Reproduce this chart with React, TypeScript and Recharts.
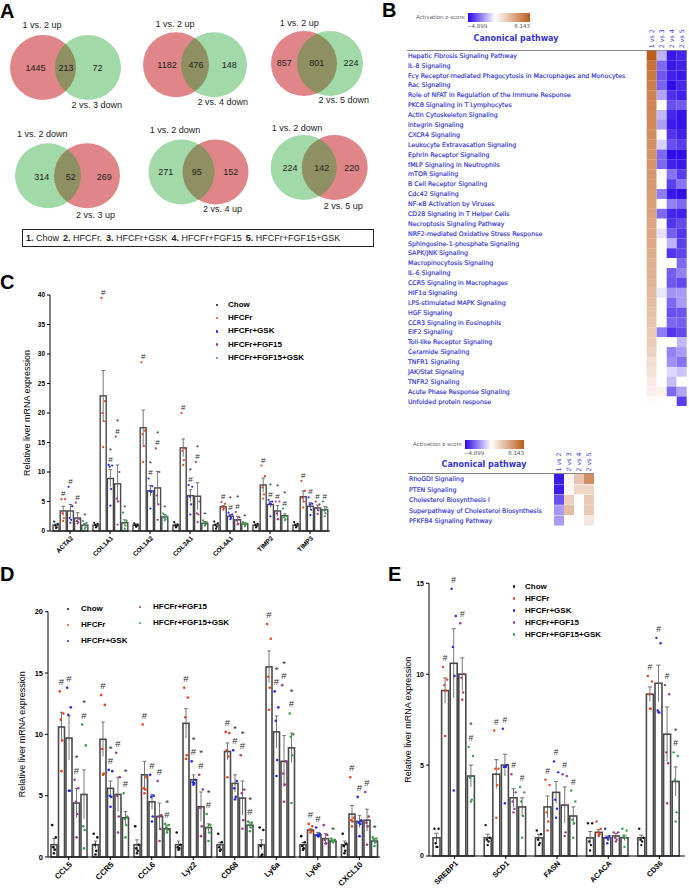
import React from "react";
import { BarChart, Bar, XAxis, YAxis, Cell, ScatterChart, Scatter } from "recharts";

const FONT = "'Liberation Sans', Arial, sans-serif";
const HEAT_FONT = "'DejaVu Sans', sans-serif";

// groups shared by C, D, E
const groups = ["Chow", "HFCFr", "HFCFr+GSK", "HFCFr+FGF15", "HFCFr+FGF15+GSK"];
const groupColors = ["#111111", "#e8431e", "#2525ee", "#9c3b8c", "#3a9e4a"];

// ---- panel A: venn counts
const vennCounts = [
  [1445, 213, 72],
  [1182, 476, 148],
  [857, 801, 224],
  [314, 52, 269],
  [271, 95, 152],
  [224, 142, 220],
];
const vennTopLabels = ["1 vs. 2 up", "1 vs. 2 up", "1 vs. 2 up", "1 vs. 2 down", "1 vs. 2 down", "1 vs. 2 down"];
const vennBottomLabels = ["2 vs. 3 down", "2 vs. 4 down", "2 vs. 5 down", "2 vs. 3 up", "2 vs. 4 up", "2 vs. 5 up"];
const groupKey = [
  ["1.", "Chow"],
  ["2.", "HFCFr."],
  ["3.", "HFCFr+GSK"],
  ["4.", "HFCFr+FGF15"],
  ["5.", "HFCFr+FGF15+GSK"],
];

// ---- panel B: IPA canonical pathways (activation z-score)
const heatCols = ["1 vs 2", "2 vs 3", "2 vs 4", "2 vs 5"];
const upperPathways = [
  "Hepatic Fibrosis Signaling Pathway",
  "IL-8 Signaling",
  "Fcγ Receptor-mediated Phagocytosis in Macrophages and Monocytes",
  "Rac Signaling",
  "Role of NFAT in Regulation of the Immune Response",
  "PKCθ Signaling in T Lymphocytes",
  "Actin Cytoskeleton Signaling",
  "Integrin Signaling",
  "CXCR4 Signaling",
  "Leukocyte Extravasation Signaling",
  "Ephrin Receptor Signaling",
  "fMLP Signaling in Neutrophils",
  "mTOR Signaling",
  "B Cell Receptor Signaling",
  "Cdc42 Signaling",
  "NF-κB Activation by Viruses",
  "CD28 Signaling in T Helper Cells",
  "Necroptosis Signaling Pathway",
  "NRF2-mediated Oxidative Stress Response",
  "Sphingosine-1-phosphate Signaling",
  "SAPK/JNK Signaling",
  "Macropinocytosis Signaling",
  "IL-6 Signaling",
  "CCR5 Signaling in Macrophages",
  "HIF1α Signaling",
  "LPS-stimulated MAPK Signaling",
  "HGF Signaling",
  "CCR3 Signaling in Eosinophils",
  "EIF2 Signaling",
  "Toll-like Receptor Signaling",
  "Ceramide Signaling",
  "TNFR1 Signaling",
  "JAK/Stat Signaling",
  "TNFR2 Signaling",
  "Acute Phase Response Signaling",
  "Unfolded protein response",
];
const upperZ = [
  [6.1, -1.5, -4.6, -4.3],
  [5.3, -3.0, -4.6, -4.4],
  [5.1, -3.3, -4.4, -4.6],
  [4.9, -3.1, -4.8, -4.3],
  [4.7, -1.8, -4.1, -4.4],
  [4.6, 0, -3.5, -3.3],
  [4.5, -1.4, -4.3, -4.7],
  [4.4, -1.9, -4.5, -4.7],
  [4.3, 0, -4.0, -4.4],
  [4.2, -0.9, -3.5, -3.9],
  [4.1, -3.0, -4.8, -4.8],
  [4.0, -3.0, -4.4, -4.6],
  [3.9, 0, -2.8, -3.9],
  [3.8, 0, -3.8, -2.8],
  [3.7, -2.6, -4.6, -4.8],
  [3.6, 0, -2.5, -3.0],
  [3.5, -3.0, -4.3, -4.4],
  [3.4, 0, -4.0, -3.6],
  [3.3, -0.6, -3.2, -4.0],
  [3.2, 0, -1.5, -3.8],
  [3.1, 0, -4.0, -3.7],
  [3.0, 0, 0, -3.0],
  [2.9, 0, -3.2, -2.5],
  [2.8, 0, -3.3, -3.6],
  [2.6, -0.5, -2.1, -2.0],
  [2.5, 0, -3.0, -2.0],
  [2.3, 0, -3.5, -3.4],
  [2.2, 0, -3.0, -3.2],
  [2.0, -2.6, -4.0, -3.6],
  [1.9, 0, 0, -1.4],
  [1.7, 0, -2.5, -2.0],
  [1.2, 0, -2.2, -2.8],
  [1.1, 0, -0.8, -1.2],
  [0.7, 0, -1.3, 0],
  [0.6, 0.5, -3.0, -1.8],
  [0.2, 0, 0, -3.8],
];
const lowerPathways = [
  "RhoGDI Signaling",
  "PTEN Signaling",
  "Cholesterol Biosynthesis I",
  "Superpathway of Cholesterol Biosynthesis",
  "PFKFB4 Signaling Pathway",
];
const lowerZ = [
  [-4.5, 0.4, 2.2, 4.2],
  [-4.5, 0.3, 1.5, 1.5],
  [-3.5, 1.8, 0, 2.0],
  [-2.0, 2.5, 0, 2.0],
  [-2.0, 0, 0, 0.9],
];

// ---- panel C: fibrosis genes
const fibGenes = ["ACTA2", "COL1A1", "COL1A2", "COL3A1", "COL4A1", "TIMP2", "TIMP3"];
const fibMean = [
  [1.0, 3.4, 3.4, 2.2, 1.0],
  [1.0, 22.9, 8.9, 8.0, 1.4],
  [1.0, 17.5, 6.8, 7.3, 2.4],
  [1.0, 14.1, 6.0, 5.9, 1.3],
  [1.0, 4.1, 2.5, 1.9, 1.2],
  [1.0, 7.8, 4.5, 3.4, 2.6],
  [1.0, 5.8, 4.2, 3.9, 3.6],
];
const fibSem = [
  [0.2, 0.8, 1.1, 0.9, 0.3],
  [0.2, 4.3, 1.5, 3.2, 0.5],
  [0.2, 3.0, 0.9, 2.8, 0.4],
  [0.2, 1.5, 1.0, 2.3, 0.3],
  [0.2, 0.2, 0.3, 0.6, 0.2],
  [0.2, 1.2, 0.5, 0.9, 0.3],
  [0.2, 1.0, 0.6, 0.5, 0.5],
];
const fibPoints = [
  [[1.6, 1.2, 0.9, 0.6, 0.5], [5.4, 5.4, 3.0, 2.2, 1.7], [7.5, 4.2, 2.2, 1.9, 1.4], [4.8, 2.0, 1.7, 1.5, 1.3], [1.7, 1.4, 1.0, 0.6, 0.4]],
  [[1.4, 1.2, 1.0, 0.8, 0.6], [39.5, 22.0, 20.0, 18.6, 14.2], [11.2, 11.1, 10.9, 7.1, 4.3], [16.0, 10.0, 5.5, 5.0, 1.1], [3.1, 1.7, 1.3, 0.9, 0.4]],
  [[1.3, 1.1, 1.0, 0.8, 0.7], [28.6, 17.0, 16.4, 14.4, 11.7], [8.9, 7.6, 6.8, 6.6, 3.8], [14.0, 10.0, 6.0, 4.5, 1.9], [3.0, 2.5, 2.3, 2.0, 1.8]],
  [[1.5, 1.1, 0.9, 0.8, 0.6], [20.0, 14.0, 13.6, 12.0, 11.2], [7.8, 7.5, 5.8, 4.5, 2.8], [11.7, 5.0, 3.0, 2.8, 1.5], [1.8, 1.5, 1.3, 1.1, 0.9]],
  [[1.6, 1.3, 1.0, 0.7, 0.4], [4.9, 4.6, 4.1, 3.8, 3.6], [3.1, 2.8, 2.5, 2.2, 2.0], [3.2, 2.3, 1.8, 1.2, 1.1], [1.5, 1.3, 1.2, 1.0, 0.8]],
  [[1.5, 1.2, 1.0, 0.8, 0.6], [11.1, 9.3, 7.4, 6.2, 5.5], [5.3, 5.0, 4.7, 4.5, 2.5], [5.0, 5.0, 3.0, 2.0, 2.0], [3.8, 2.5, 2.3, 2.0, 1.8]],
  [[1.5, 1.2, 1.0, 0.8, 0.6], [8.5, 6.8, 5.6, 5.0, 4.0], [5.7, 4.6, 4.5, 3.6, 2.7], [5.0, 4.5, 3.9, 3.5, 2.9], [5.0, 4.0, 3.5, 3.0, 2.5]],
];
const fibMarks = [
  ["", "#", "#", "#", "*"],
  ["", "#", "*#", "*#", "*"],
  ["", "#", "*#", "*#", "*"],
  ["", "#", "*#", "*#", "*"],
  ["", "#", "*#", "*#", "*"],
  ["", "#", "*#", "*#", "*#"],
  ["", "#", "#", "#", "#"],
];
const fibTicks = [0, 5, 10, 15, 20, 25, 30, 35, 40];

// ---- panel D: inflammation genes
const inflGenes = ["CCL5", "CCR5", "CCL6", "Lyz2", "CD68", "Ly6a", "Ly6e", "CXCL10"];
const inflMean = [
  [1.0, 10.6, 9.7, 4.4, 5.1],
  [1.0, 9.6, 5.6, 5.1, 3.2],
  [1.0, 6.7, 4.5, 3.3, 2.3],
  [1.0, 10.9, 6.3, 4.1, 2.4],
  [1.0, 8.6, 6.0, 4.8, 2.6],
  [1.0, 15.5, 10.2, 7.8, 8.9],
  [1.0, 2.2, 1.8, 1.5, 1.3],
  [1.0, 3.5, 2.9, 3.0, 1.3],
];
const inflSem = [
  [0.5, 1.2, 1.8, 1.2, 2.0],
  [0.3, 1.4, 0.6, 1.4, 0.5],
  [0.4, 1.1, 0.6, 1.1, 0.3],
  [0.3, 1.2, 0.4, 1.2, 0.3],
  [0.2, 0.7, 0.7, 1.4, 0.2],
  [0.4, 1.3, 1.3, 2.1, 1.2],
  [0.2, 0.1, 0.2, 0.4, 0.1],
  [0.3, 0.7, 0.5, 0.9, 0.2],
];
const inflPoints = [
  [[2.6, 1.6, 0.8, 0.6, 0.3], [13.5, 11.7, 11.2, 9.5, 7.0], [13.8, 12.2, 11.6, 5.4, 5.4], [6.3, 5.6, 4.5, 3.5, 1.6], [10.8, 9.1, 2.5, 2.2, 0.7]],
  [[1.9, 1.6, 1.0, 0.5, 0.2], [13.2, 12.4, 8.8, 6.8, 6.7], [7.1, 7.0, 5.0, 4.9, 4.1], [8.5, 6.5, 5.0, 3.3, 2.0], [5.2, 3.3, 3.1, 2.6, 1.6]],
  [[2.5, 1.0, 0.7, 0.5, 0.3], [10.8, 6.5, 5.6, 5.5, 5.2], [6.7, 5.0, 4.9, 3.3, 2.9], [6.2, 3.4, 3.3, 2.3, 1.3], [2.7, 2.6, 2.4, 2.2, 2.0]],
  [[2.0, 1.0, 0.8, 0.7, 0.6], [13.8, 13.0, 11.4, 8.3, 8.0], [7.8, 6.3, 6.1, 6.0, 5.9], [6.7, 5.5, 4.0, 2.5, 1.7], [3.5, 2.6, 2.4, 2.0, 1.3]],
  [[1.9, 1.2, 0.8, 0.6, 0.5], [10.2, 10.1, 8.7, 8.2, 6.5], [8.7, 6.2, 5.6, 4.9, 4.7], [8.3, 5.5, 5.2, 3.0, 2.3], [2.9, 2.8, 2.6, 2.4, 2.1]],
  [[2.4, 2.2, 0.9, 0.2, 0.1], [19.0, 17.8, 14.7, 13.8, 12.0], [13.5, 12.2, 11.1, 7.9, 6.6], [14.0, 7.8, 6.8, 5.9, 4.5], [11.7, 10.0, 9.8, 8.3, 4.4]],
  [[1.7, 1.2, 0.9, 0.7, 0.6], [2.7, 2.5, 2.2, 2.1, 2.0], [2.4, 1.9, 1.8, 1.7, 1.7], [2.6, 1.8, 1.4, 1.1, 1.1], [1.5, 1.4, 1.3, 1.3, 1.2]],
  [[1.9, 1.1, 0.9, 0.5, 0.3], [6.5, 3.2, 3.0, 2.9, 2.5], [4.9, 3.0, 2.8, 2.7, 1.7], [5.3, 3.3, 2.8, 2.5, 1.0], [1.6, 1.5, 1.4, 1.2, 0.9]],
];
const inflMarks = [
  ["", "#", "#", "*#", "*#"],
  ["", "#", "*#", "#", "*#"],
  ["", "#", "#", "#", "*#"],
  ["", "#", "*#", "*#", "*#"],
  ["", "#", "*#", "*#", "*#"],
  ["", "#", "*#", "*#", "*#"],
  ["", "#", "#", "", "*"],
  ["", "#", "#", "#", "*"],
];
const inflTicks = [0, 5, 10, 15, 20];

// ---- panel E: lipid genes
const lipGenes = ["SREBP1", "SCD1", "FASN", "ACACA", "CD36"];
const lipMean = [
  [1.0, 9.1, 10.6, 10.0, 4.4],
  [1.0, 4.5, 5.0, 3.2, 2.7],
  [1.0, 2.7, 3.5, 2.8, 2.2],
  [1.0, 1.3, 1.0, 1.1, 1.0],
  [1.0, 8.9, 9.5, 6.7, 4.1],
];
const lipSem = [
  [0.25, 0.7, 1.9, 0.9, 0.6],
  [0.2, 0.8, 0.6, 0.5, 0.5],
  [0.2, 0.6, 0.6, 1.0, 0.5],
  [0.35, 0.15, 0.1, 0.15, 0.15],
  [0.15, 0.4, 1.0, 1.5, 0.8],
];
const lipPoints = [
  [[1.5, 1.5, 0.7, 0.5, 0.5], [10.4, 9.7, 9.4, 9.1, 6.6], [14.7, 13.2, 11.5, 9.9, 3.6], [12.8, 10.0, 9.8, 9.0, 8.6], [6.0, 5.5, 4.3, 3.1, 3.0]],
  [[1.7, 1.0, 0.9, 0.8, 0.6], [6.9, 4.8, 4.8, 3.9, 2.1], [7.0, 5.0, 4.9, 4.9, 2.9], [4.5, 3.5, 3.0, 2.6, 2.4], [3.8, 3.5, 3.0, 2.2, 1.0]],
  [[1.4, 1.2, 0.9, 0.7, 0.6], [4.2, 3.9, 2.4, 1.9, 1.4], [5.2, 4.6, 3.1, 2.6, 2.1], [4.5, 4.4, 2.8, 1.3, 1.1], [3.6, 3.0, 2.0, 1.8, 1.0]],
  [[1.8, 1.8, 0.8, 0.6, 0.3], [1.9, 1.5, 1.3, 1.2, 1.1], [1.5, 1.1, 1.0, 0.9, 0.7], [1.3, 1.3, 1.0, 0.9, 0.8], [1.5, 1.4, 1.1, 1.0, 0.5]],
  [[1.5, 1.0, 0.9, 0.8, 0.6], [9.9, 9.6, 8.9, 8.1, 8.1], [12.0, 11.7, 8.0, 7.9, 7.9], [9.4, 8.9, 5.7, 5.1, 2.9], [5.7, 5.5, 4.2, 2.4, 1.9]],
];
const lipMarks = [
  ["", "#", "#", "#", "*#"],
  ["", "#", "#", "#", "#"],
  ["", "#", "#", "#", "#"],
  ["", "", "", "", ""],
  ["", "#", "#", "#", "*#"],
];
const lipTicks = [0, 5, 10, 15];

// layout of the six venn diagrams (page px)
const VENN_LAYOUT = [
  { l: 43, r: 88, cy: 67.5, nx: [35.5, 66, 97.5], ny: 67.7, top: [42, 25], bot: [96.7, 105] },
  { l: 176, r: 214, cy: 64.7, nx: [167, 196, 229.3], ny: 65, top: [175, 24], bot: [222.7, 102.3] },
  { l: 304, r: 330, cy: 63.5, nx: [284.3, 316.7, 351], ny: 63.3, top: [299.3, 23.3], bot: [343.8, 100] },
  { l: 48, r: 87, cy: 175.8, nx: [41.7, 70.7, 104.3], ny: 176.7, top: [42.2, 134], bot: [95.5, 215] },
  { l: 181.5, r: 215.5, cy: 172, nx: [165.7, 196.7, 230.7], ny: 172.3, top: [175, 130], bot: [222.5, 209] },
  { l: 303.7, r: 334.7, cy: 167.5, nx: [290, 321.7, 351.7], ny: 167.7, top: [297, 128.3], bot: [343.3, 206] },
];

const zColor = (z: number) => {
  const lerp = (a: number, b: number, t: number) => Math.round(a + (b - a) * t);
  if (!z) return "#ffffff";
  if (z < 0) {
    const t = Math.min(1, -z / 4.899);
    return `rgb(${lerp(255, 43, t)},${lerp(255, 8, t)},${lerp(255, 232, t)})`;
  }
  const t = Math.min(1, z / 6.143);
  return `rgb(${lerp(255, 188, t)},${lerp(255, 92, t)},${lerp(255, 28, t)})`;
};

const PanelLetter = ({ ch, x, y }: any) => (
  <div style={{ position: "absolute", left: x, top: y, fontSize: 20, fontWeight: "bold", lineHeight: 1, fontFamily: FONT }}>{ch}</div>
);

const VennPanel = () => {
  const reds: any[] = [];
  const greens: any[] = [];
  const texts: any[] = [];
  VENN_LAYOUT.forEach((v, i) => {
    const redLeft = i < 3;
    reds.push({ x: redLeft ? v.l : v.r, y: v.cy });
    greens.push({ x: redLeft ? v.r : v.l, y: v.cy });
    vennCounts[i].forEach((c, j) => texts.push({ x: v.nx[j], y: v.ny, text: String(c) }));
    texts.push({ x: v.top[0], y: v.top[1], text: vennTopLabels[i] });
    texts.push({ x: v.bot[0], y: v.bot[1], text: vennBottomLabels[i] });
  });
  const circle = (fill: string, op: number) => (p: any) => (
    <ellipse cx={p.cx} cy={p.cy} rx={33} ry={32.5} fill={fill} fillOpacity={op} />
  );
  const label = (p: any) => (
    <text x={p.cx} y={p.cy} dy="0.35em" textAnchor="middle" fontSize={9} fill="#222" fontFamily={FONT}>
      {p.payload.text}
    </text>
  );
  return (
    <div style={{ position: "absolute", left: 0, top: 0 }}>
      <ScatterChart width={380} height={225} margin={{ top: 0, right: 0, bottom: 0, left: 0 }}>
        <XAxis type="number" dataKey="x" domain={[0, 380]} hide />
        <YAxis type="number" dataKey="y" domain={[0, 225]} reversed hide />
        <Scatter data={reds} shape={circle("rgb(200,40,45)", 0.57)} isAnimationActive={false} />
        <Scatter data={greens} shape={circle("rgb(20,160,40)", 0.4)} isAnimationActive={false} />
        <Scatter data={texts} shape={label} isAnimationActive={false} />
      </ScatterChart>
    </div>
  );
};

const ColTick = (p: any) => {
  const { x, payload, base } = p;
  return (
    <text transform={`translate(${x + 2.3},${base}) rotate(-90)`} textAnchor="start" fontSize={6.3} fill="#3636d6" fontFamily={HEAT_FONT}>
      {heatCols[Math.floor(payload.value)]}
    </text>
  );
};

const RowTick = (p: any) => {
  const { y, payload, x0 } = p;
  return (
    <text x={x0} y={y} dy="0.35em" fontSize={6.3} fill="#3030d4" fontFamily={HEAT_FONT} stroke="#3030d4" strokeWidth={0.15}>
      {payload.value}
    </text>
  );
};

const Heatmap = ({ names, z, cfg }: any) => {
  const rows = names.map((n: string) => ({ name: n, c0: 1, c1: 1, c2: 1, c3: 1 }));
  return (
    <div style={{ position: "absolute", left: cfg.left, top: cfg.top }}>
      <BarChart
        layout="vertical"
        width={cfg.width}
        height={cfg.height}
        data={rows}
        margin={{ top: 0, right: cfg.right, bottom: 0, left: 0 }}
        barCategoryGap={0}
      >
        <XAxis
          type="number"
          orientation="top"
          domain={[0, 4]}
          ticks={[0.5, 1.5, 2.5, 3.5]}
          height={cfg.headerH}
          axisLine={false}
          tickLine={false}
          interval={0}
          tick={<ColTick base={cfg.headerH - 2.5} />}
        />
        <YAxis
          type="category"
          dataKey="name"
          width={cfg.yAxisWidth}
          axisLine={false}
          tickLine={false}
          interval={0}
          tick={<RowTick x0={cfg.labelX} />}
        />
        {[0, 1, 2, 3].map((k) => (
          <Bar key={k} dataKey={`c${k}`} stackId="h" isAnimationActive={false}>
            {z.map((r: number[], i: number) => (
              <Cell key={i} fill={zColor(r[k])} />
            ))}
          </Bar>
        ))}
      </BarChart>
    </div>
  );
};

const HeatLegend = ({ x, y, w, title }: any) => (
  <>
    <div style={{ position: "absolute", left: x - 70, top: y + 1, width: 67, textAlign: "right", fontSize: 5.5, color: "#666", fontFamily: HEAT_FONT }}>
      Activation z-score
    </div>
    <div
      style={{
        position: "absolute",
        left: x,
        top: y,
        width: w,
        height: 9,
        background: "linear-gradient(to right, rgb(43,8,232) 0%, #ffffff 44%, rgb(188,92,28) 100%)",
      }}
    />
    <div style={{ position: "absolute", left: x - 1, top: y + 10, fontSize: 5.5, color: "#555", fontFamily: HEAT_FONT }}>−4.899</div>
    <div style={{ position: "absolute", left: x + w - 20, top: y + 10, width: 20, textAlign: "right", fontSize: 5.5, color: "#555", fontFamily: HEAT_FONT }}>
      6.143
    </div>
    <div
      style={{
        position: "absolute",
        left: title.cx - 60,
        top: title.y - 5,
        width: 120,
        textAlign: "center",
        fontSize: 8,
        fontWeight: "bold",
        color: "#3434d0",
        fontFamily: HEAT_FONT,
      }}
    >
      Canonical pathway
    </div>
    <div style={{ position: "absolute", left: title.lx0, top: title.ly, width: title.lx1 - title.lx0, height: 0, borderTop: "1px solid #888" }} />
  </>
);

const JIT = [-0.3, 0.3, -0.12, 0.12, 0];

const makeShape = (k: number, sem: number[][], points: number[][][], marks: string[][], st: any) => (p: any) => {
  const { x, y, width, height, payload } = p;
  const gi = payload.idx;
  const m = payload[`m${k}`];
  if (!m || !height) return <g />;
  const ppu = height / m;
  const base = y + height;
  const sy = (v: number) => base - v * ppu;
  const cx = x + width / 2;
  const s = sem[gi][k];
  const pts = points[gi][k];
  const top = Math.min(sy(m + s), ...pts.map(sy));
  const mk = marks[gi][k].split("").reverse();
  return (
    <g>
      <rect x={x} y={y} width={width} height={height} fill="#ffffff" stroke="#4a4a4a" strokeWidth={st.bw} />
      <line x1={cx} x2={cx} y1={sy(Math.max(0, m - s))} y2={sy(m + s)} stroke="#555" strokeWidth={0.8} />
      <line x1={cx - width * 0.3} x2={cx + width * 0.3} y1={sy(m + s)} y2={sy(m + s)} stroke="#555" strokeWidth={0.8} />
      {pts.map((v, j) => (
        <circle key={j} cx={cx + JIT[j] * width} cy={sy(v)} r={st.pr} fill={groupColors[k]} />
      ))}
      {mk.map((c, j) => (
        <text
          key={j}
          x={cx}
          y={top - st.gap - j * st.mf * st.step}
          textAnchor="middle"
          fontSize={st.mf}
          fill="#2e2e2e"
          fontFamily={FONT}
        >
          {c}
        </text>
      ))}
    </g>
  );
};

const RotTick = (p: any) => {
  const { x, y, payload, fs } = p;
  return (
    <text transform={`translate(${x + 2},${y + 1}) rotate(-45)`} textAnchor="end" dy="0.35em" fontSize={fs} fontWeight="bold" fill="#000" fontFamily={FONT}>
      {payload.value}
    </text>
  );
};

const AxisTitle = ({ viewBox, dx }: any) => {
  const cx = viewBox.x + dx;
  const cy = viewBox.y + viewBox.height / 2;
  return (
    <text transform={`translate(${cx},${cy}) rotate(-90)`} textAnchor="middle" fontSize={9} fill="#000" fontFamily={FONT}>
      Relative liver mRNA expression
    </text>
  );
};

const GeneChart = ({ genes, mean, sem, points, marks, ticks, cfg }: any) => {
  const rows = genes.map((g: string, i: number) => {
    const r: any = { gene: g, idx: i };
    groups.forEach((_, k) => {
      r[`m${k}`] = mean[i][k];
    });
    return r;
  });
  return (
    <div style={{ position: "absolute", left: cfg.left, top: cfg.top }}>
      <BarChart
        width={cfg.width}
        height={cfg.height}
        data={rows}
        margin={cfg.margin}
        barCategoryGap={cfg.catGap}
        barGap={cfg.barGap}
      >
        <XAxis
          dataKey="gene"
          height={cfg.xAxisHeight}
          interval={0}
          axisLine={{ stroke: "#000" }}
          tickLine={{ stroke: "#000" }}
          tickSize={3}
          tick={<RotTick fs={cfg.xFont} />}
        />
        <YAxis
          width={cfg.yAxisWidth}
          domain={[0, ticks[ticks.length - 1]]}
          ticks={ticks}
          interval={0}
          axisLine={{ stroke: "#000" }}
          tickLine={{ stroke: "#000" }}
          tickSize={3}
          tick={{ fontSize: cfg.yFont, fontWeight: "bold", fill: "#000", fontFamily: FONT }}
          label={<AxisTitle dx={cfg.titleX} />}
        />
        {groups.map((gname, k) => (
          <Bar
            key={gname}
            dataKey={`m${k}`}
            name={gname}
            isAnimationActive={false}
            shape={makeShape(k, sem, points, marks, cfg.style)}
          />
        ))}
      </BarChart>
    </div>
  );
};

const LegendItem = ({ x, y, dotX, i }: any) => (
  <>
    <div style={{ position: "absolute", left: dotX - 1.3, top: y - 1.3, width: 2.6, height: 2.6, borderRadius: 2, background: groupColors[i] }} />
    <div style={{ position: "absolute", left: x, top: y - 5, fontSize: 8, lineHeight: "10px", fontWeight: "bold", fontFamily: FONT, whiteSpace: "nowrap" }}>
      {groups[i]}
    </div>
  </>
);

export default function App() {
  return (
    <div style={{ position: "absolute", left: 0, top: 0, width: 689, height: 892, background: "#fff", fontFamily: FONT, overflow: "hidden" }}>
      <VennPanel />
      <div
        style={{
          position: "absolute",
          left: 22,
          top: 229,
          width: 347,
          height: 16,
          border: "1.5px solid #222",
          fontSize: 9,
          lineHeight: "16px",
          paddingLeft: 3,
          whiteSpace: "nowrap",
          color: "#222",
        }}
      >
        {groupKey.map(([n, g]) => (
          <span key={n} style={{ marginRight: 4 }}>
            <b>{n}</b> {g}
          </span>
        ))}
      </div>

      <HeatLegend x={468} y={13} w={62} title={{ cx: 516, y: 39, lx0: 407, lx1: 687, ly: 50 }} />
      <Heatmap
        names={upperPathways}
        z={upperZ}
        cfg={{ left: 380, top: 0, width: 309, height: 406.4, right: 2.3, headerH: 50.7, yAxisWidth: 266.7, labelX: 28 }}
      />
      <HeatLegend x={465} y={440} w={59} title={{ cx: 484, y: 465, lx0: 408, lx1: 594, ly: 473 }} />
      <Heatmap
        names={lowerPathways}
        z={lowerZ}
        cfg={{ left: 380, top: 420, width: 309, height: 106, right: 95, headerH: 54, yAxisWidth: 174, labelX: 29 }}
      />

      <GeneChart
        genes={fibGenes}
        mean={fibMean}
        sem={fibSem}
        points={fibPoints}
        marks={fibMarks}
        ticks={fibTicks}
        cfg={{
          left: 0,
          top: 285,
          width: 400,
          height: 281,
          margin: { top: 10, right: 70, bottom: 0, left: 0 },
          yAxisWidth: 50,
          xAxisHeight: 35,
          catGap: 3,
          barGap: 1.2,
          xFont: 6.5,
          yFont: 6.5,
          titleX: 30,
          style: { bw: 1.4, pr: 1.1, mf: 8, gap: 3, step: 1.15 },
        }}
      />
      {groups.map((g, i) => (
        <LegendItem key={g} i={i} dotX={217} x={228} y={305 + i * 13.2} />
      ))}

      <GeneChart
        genes={inflGenes}
        mean={inflMean}
        sem={inflSem}
        points={inflPoints}
        marks={inflMarks}
        ticks={inflTicks}
        cfg={{
          left: 0,
          top: 600,
          width: 395,
          height: 292,
          margin: { top: 11.7, right: 15, bottom: 0, left: 0 },
          yAxisWidth: 48,
          xAxisHeight: 35,
          catGap: 3,
          barGap: 1.5,
          xFont: 8,
          yFont: 7.5,
          titleX: 25,
          style: { bw: 1.6, pr: 1.3, mf: 9.5, gap: 6, step: 1.3 },
        }}
      />
      {[0, 1, 2].map((i) => (
        <LegendItem key={i} i={i} dotX={68} x={81} y={609 + i * 16} />
      ))}
      {[3, 4].map((i) => (
        <LegendItem key={i} i={i} dotX={140} x={153} y={607 + (i - 3) * 16} />
      ))}

      <GeneChart
        genes={lipGenes}
        mean={lipMean}
        sem={lipSem}
        points={lipPoints}
        marks={lipMarks}
        ticks={lipTicks}
        cfg={{
          left: 400,
          top: 570,
          width: 289,
          height: 322,
          margin: { top: 13.3, right: 4, bottom: 0, left: 0 },
          yAxisWidth: 29,
          xAxisHeight: 36,
          catGap: 4,
          barGap: 1.6,
          xFont: 7.5,
          yFont: 7,
          titleX: 11,
          style: { bw: 1.6, pr: 1.2, mf: 8.5, gap: 6, step: 1.5 },
        }}
      />
      {groups.map((g, i) => (
        <LegendItem key={g} i={i} dotX={514} x={525} y={586.7 + i * 12} />
      ))}

      <PanelLetter ch="A" x={0} y={0.7} />
      <PanelLetter ch="B" x={382} y={0.4} />
      <PanelLetter ch="C" x={0} y={272.4} />
      <PanelLetter ch="D" x={0} y={564} />
      <PanelLetter ch="E" x={388} y={564} />
    </div>
  );
}
